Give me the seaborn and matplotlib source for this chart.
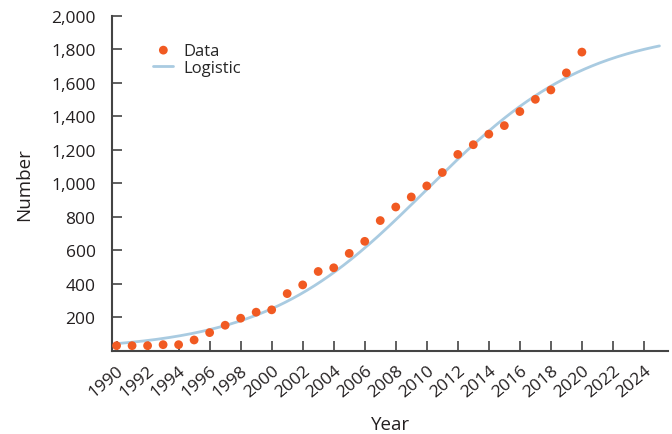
import numpy as np
import pandas as pd
import matplotlib
matplotlib.use("Agg")
import matplotlib.pyplot as plt
import seaborn as sns

# Observed yearly counts
years = list(range(1990, 2021))
counts = [30, 30, 30, 36, 36, 64, 108, 152, 194, 230, 244, 341, 393, 473, 495,
          581, 653, 777, 858, 918, 984, 1064, 1172, 1230, 1293, 1344, 1428,
          1501, 1557, 1659, 1783]

# Fitted logistic model parameters: L / (1 + exp(-k (t - t0)))
logistic_L = 1925.0
logistic_k = 0.19
logistic_t0 = 2010.0
fit_start, fit_end = 1990, 2025

xticks = list(range(1990, 2025, 2))
yticks = list(range(200, 2001, 200))

sns.set_theme(style="white")
plt.rcParams["font.family"] = ["Open Sans", "DejaVu Sans"]

data_df = pd.DataFrame({"Year": years, "Number": counts})
t = np.linspace(fit_start, fit_end, 300)
fit_df = pd.DataFrame({"Year": t,
                       "Number": logistic_L / (1 + np.exp(-logistic_k * (t - logistic_t0)))})

fig = plt.figure(figsize=(6.72, 4.35), dpi=100)
ax = fig.add_axes([0.167, 0.1915, 0.827, 0.770])

sns.lineplot(data=fit_df, x="Year", y="Number", ax=ax, color="#a9cbe1",
             linewidth=2, label="Logistic", zorder=2)
sns.scatterplot(data=data_df, x="Year", y="Number", ax=ax, color="#f15a22",
                s=40, edgecolor="none", label="Data", zorder=3)

ax.set_xlim(1989.72, 2025.55)
ax.set_ylim(0, 2000)
ax.set_xticks(xticks)
ax.set_yticks(yticks)
ax.set_yticklabels([f"{v:,}" for v in yticks])
ax.tick_params(axis="both", direction="in", length=7, width=1.2, color="#444444",
               labelsize=12.5, labelcolor="#231f20", bottom=True, left=True)
ax.tick_params(axis="y", pad=12)
ax.tick_params(axis="x", pad=8)
for lbl in ax.get_xticklabels():
    lbl.set_rotation(40)
    lbl.set_ha("right")
    lbl.set_rotation_mode("anchor")

for side in ["top", "right"]:
    ax.spines[side].set_visible(False)
for side in ["left", "bottom"]:
    ax.spines[side].set_color("#444444")
    ax.spines[side].set_linewidth(1.5)

ax.set_xlabel("Year", fontsize=13.5, color="#231f20", labelpad=11)
ax.set_ylabel("Number", fontsize=13.5, color="#231f20", labelpad=13)

handles, labels = ax.get_legend_handles_labels()
order = [labels.index("Data"), labels.index("Logistic")]
ax.legend([handles[i] for i in order], [labels[i] for i in order],
          loc="upper left", bbox_to_anchor=(0.062, 0.94), frameon=False,
          fontsize=12, handlelength=1.2, handletextpad=0.6, labelspacing=0.1,
          borderaxespad=0)

fig.savefig("out.png", dpi=100)
